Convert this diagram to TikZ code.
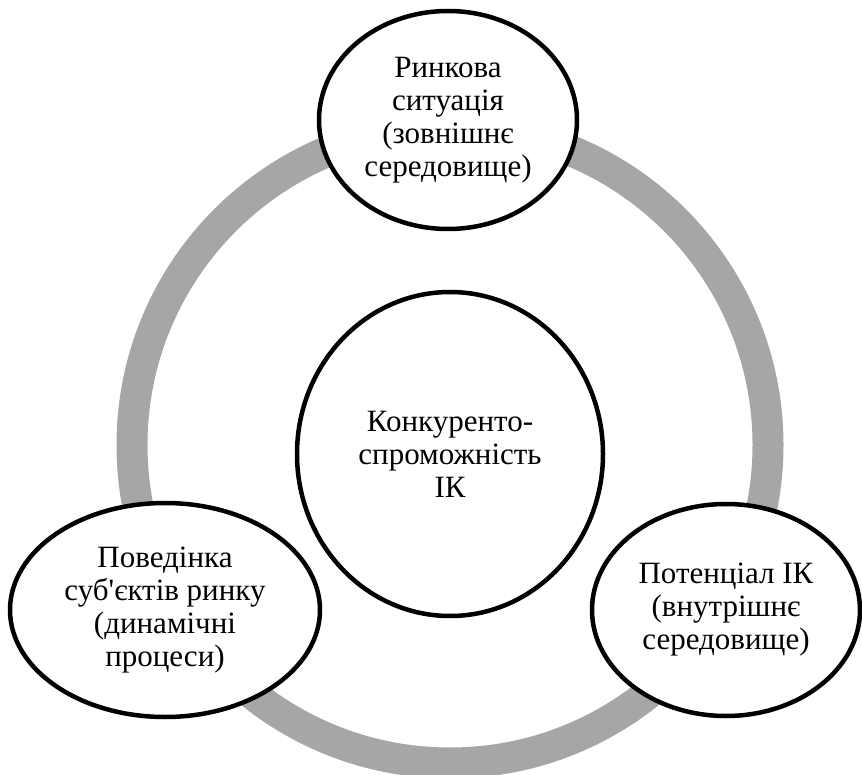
\documentclass[tikz,border=0pt]{standalone}
\usepackage{fontspec}
\setmainfont{Liberation Serif}
\usetikzlibrary{shapes.geometric}
\definecolor{ringgray}{HTML}{A6A6A6}
\newcommand\sq{\XeTeXglyph\XeTeXcharglyph"27\relax}
\begin{document}
\begin{tikzpicture}[x=1pt,y=-1pt,
  bubble/.style={ellipse, draw=black, line width=4.5pt, fill=white, inner sep=0pt,
    align=center, font=\fontsize{31}{33}\selectfont},
  ringstyle/.style={circle, draw=ringgray, line width=31pt, inner sep=0pt}]
\useasboundingbox (0,0) rectangle (862,775);
\node[ringstyle, minimum size=636pt] (ring) at (450,445) {};
\node[bubble, minimum width=306pt, minimum height=324pt] (core) at (450,454)
  {Конкуренто-\\спроможність\\ІК};
\node[bubble, minimum width=258pt, minimum height=218pt] (market) at (448,120)
  {Ринкова\\ситуація\\(зовнішнє\\середовище)};
\node[bubble, minimum width=310pt, minimum height=214pt] (behav) at (165,610)
  {Поведінка\\суб\sq єктів ринку\\(динамічні\\процеси)};
\node[bubble, minimum width=268pt, minimum height=212pt] (potent) at (726,610)
  {Потенціал ІК\\(внутрішнє\\середовище)};
\end{tikzpicture}
\end{document}
